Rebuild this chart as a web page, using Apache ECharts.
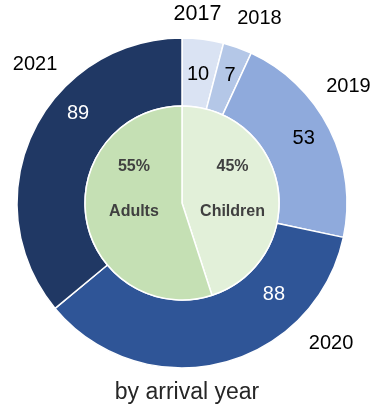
<!DOCTYPE html>
<html>
<head>
<meta charset="utf-8">
<script src="https://cdn.jsdelivr.net/npm/echarts@6/dist/echarts.min.js"></script>
<style>
html,body{margin:0;padding:0;background:#fff;}
#chart{width:374px;height:411px;}
</style>
</head>
<body>
<div id="chart"></div>
<script>
// ---- data ----
const years = ['2017', '2018', '2019', '2020', '2021'];
const arrivals = [10, 7, 53, 88, 89];
const groups = ['Children', 'Adults'];
const groupShares = [45, 55];
const chartTitle = 'by arrival year';

// ---- styling / layout ----
const FONT = '"Liberation Sans", Arial, sans-serif';
const CX = 182, CY = 203;
const yearColors = ['#dae3f3', '#b4c7e7', '#8faadc', '#2f5597', '#203864'];
const valueColors = ['#000', '#000', '#000', '#fff', '#fff'];
const yearFontSizes = [21.5, 20, 20, 20, 20];
const groupColors = ['#e2f0d9', '#c5e0b4'];
// label placement as polar [angle deg clockwise from top, radius]
const valueLabelPolar = [[7.1, 129.5], [20.6, 136.7], [61.9, 138], [134.7, 129.4], [310.6, 136.9]];
const yearLabelPolar = [[4.7, 189.6], [22.8, 199.7], [55, 203.2], [133.2, 204.5], [313.4, 202.3]];
const groupLabelPolar = [[75, 52.3], [285.7, 49.9]];

function polarLayout(table) {
  return function (params) {
    const p = table[params.dataIndex];
    const a = p[0] * Math.PI / 180;
    return {
      x: CX + p[1] * Math.sin(a),
      y: CY - p[1] * Math.cos(a),
      align: 'center',
      verticalAlign: 'middle'
    };
  };
}

const chart = echarts.init(document.getElementById('chart'), null, {renderer: 'canvas'});

const option = {
  animation: false,
  backgroundColor: '#fff',
  title: {
    text: chartTitle,
    left: 'center',
    top: 381,
    padding: 0,
    textStyle: {fontFamily: FONT, fontSize: 23, fontWeight: 'normal', color: '#262626'}
  },
  series: [
    {
      type: 'pie',
      center: [CX, CY],
      radius: [97, 165],
      startAngle: 90,
      clockwise: true,
      silent: true,
      avoidLabelOverlap: false,
      itemStyle: {borderColor: '#fff', borderWidth: 1.5},
      label: {
        show: true,
        position: 'inside',
        formatter: '{c}',
        fontFamily: FONT,
        fontSize: 20
      },
      labelLine: {show: false},
      labelLayout: polarLayout(valueLabelPolar),
      data: years.map((y, i) => ({
        name: y,
        value: arrivals[i],
        itemStyle: {color: yearColors[i]},
        label: {color: valueColors[i]}
      }))
    },
    {
      type: 'pie',
      center: [CX, CY],
      radius: [97, 165],
      startAngle: 90,
      clockwise: true,
      silent: true,
      avoidLabelOverlap: false,
      z: 3,
      itemStyle: {color: 'rgba(0,0,0,0)', borderWidth: 0},
      label: {
        show: true,
        position: 'inside',
        formatter: '{b}',
        fontFamily: FONT,
        fontSize: 20,
        color: '#000'
      },
      labelLine: {show: false},
      labelLayout: polarLayout(yearLabelPolar),
      data: years.map((y, i) => ({name: y, value: arrivals[i], label: {fontSize: yearFontSizes[i]}}))
    },
    {
      type: 'pie',
      center: [CX, CY],
      radius: [0, 97],
      startAngle: 90,
      clockwise: true,
      silent: true,
      avoidLabelOverlap: false,
      itemStyle: {borderColor: '#fff', borderWidth: 1.5},
      label: {
        show: true,
        position: 'inside',
        formatter: '{c}%\n\n{b}',
        fontFamily: FONT,
        fontSize: 16,
        fontWeight: 'bold',
        lineHeight: 22.5,
        color: '#404040'
      },
      labelLine: {show: false},
      labelLayout: polarLayout(groupLabelPolar),
      data: groups.map((g, i) => ({
        name: g,
        value: groupShares[i],
        itemStyle: {color: groupColors[i]}
      }))
    }
  ]
};
chart.setOption(option);
</script>
</body>
</html>
